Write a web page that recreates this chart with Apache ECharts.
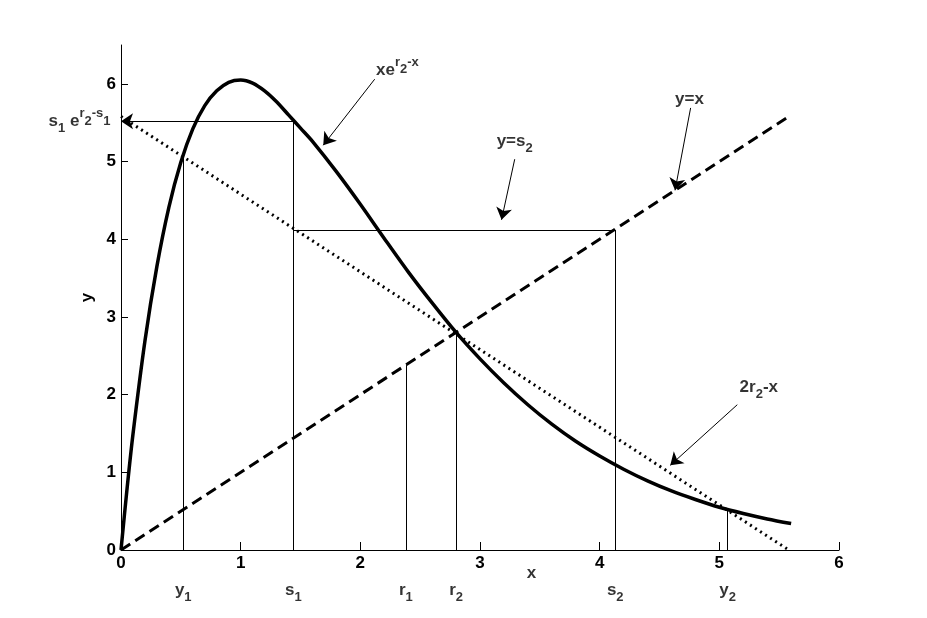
<!DOCTYPE html>
<html>
<head>
<meta charset="utf-8">
<script src="https://cdn.jsdelivr.net/npm/echarts@6/dist/echarts.min.js"></script>
<style>
  html, body { margin: 0; padding: 0; background: #fff; }
  #main { width: 927px; height: 618px; }
</style>
</head>
<body>
<div id="main"></div>
<script>
// curve x*e^(r2-x), values
const curveX = [0, 0.05, 0.1, 0.2, 0.3, 0.4, 0.5, 0.6, 0.7, 0.8, 0.9, 1.0, 1.1, 1.2, 1.3, 1.4, 1.5, 1.6, 1.8, 2.0, 2.2, 2.4, 2.6, 2.8, 3.0, 3.2, 3.4, 3.6, 3.8, 4.0, 4.2, 4.4, 4.6, 4.8, 5.0, 5.2, 5.4, 5.6]
const curveY = [0, 0.78, 1.49, 2.69, 3.65, 4.41, 4.99, 5.42, 5.72, 5.91, 6.02, 6.05, 6.01, 5.91, 5.77, 5.60, 5.43, 5.26, 4.87, 4.45, 4.01, 3.58, 3.18, 2.80, 2.46, 2.15, 1.87, 1.62, 1.40, 1.21, 1.04, 0.89, 0.76, 0.65, 0.55, 0.47, 0.40, 0.34]

// y = x and 2r2 - x
const identityLine = [[0, 0], [5.6, 5.6]]
const mirrorLine = [[0, 5.58], [5.58, 0]]

// thin construction lines [x1, y1, x2, y2]
const guideLines = [
  [0.52, 0, 0.52, 5.08],
  [1.44, 0, 1.44, 5.52],
  [2.38, 0, 2.38, 2.38],
  [2.8, 0, 2.8, 2.8],
  [4.13, 0, 4.13, 4.12],
  [5.07, 0, 5.07, 0.53],
  [1.44, 4.12, 4.13, 4.12]
]
// thin lines ending in an arrow head
const arrowLines = [
  [1.44, 5.52, 0, 5.52],
  [2.12, 6.06, 1.69, 5.21],
  [4.76, 5.69, 4.63, 4.63],
  [3.29, 5.03, 3.18, 4.25],
  [5.15, 1.87, 4.59, 1.09]
]

// marks under the x axis
const markerX = [0.52, 1.44, 2.38, 2.8, 4.13, 5.07]
const markerText = ['{b|y}{sub|1}', '{b|s}{sub|1}', '{b|r}{sub|1}', '{b|r}{sub|2}', '{b|s}{sub|2}', '{b|y}{sub|2}']

// curve annotations [x, y, text]
const notes = [
  [2.31, 6.18, '{b|xe}{sup|r}{mid|2}{sup|-x}'],
  [4.75, 5.80, '{b|y=x}'],
  [3.29, 5.26, '{b|y=s}{sub|2}'],
  [5.33, 2.10, '{b|2r}{sub|2}{b|-x}']
]

const xTicks = [0, 1, 2, 3, 4, 5, 6]
const yTicks = [0, 1, 2, 3, 4, 5, 6]

const FONT = '"Liberation Sans", Arial, sans-serif'
const rich = {
  b: { fontSize: 17, fontWeight: 'bold', fontFamily: FONT, color: '#000', lineHeight: 28, verticalAlign: 'middle' },
  sub: { fontSize: 13, fontWeight: 'bold', fontFamily: FONT, color: '#000', lineHeight: 12, verticalAlign: 'bottom' },
  sup: { fontSize: 13, fontWeight: 'bold', fontFamily: FONT, color: '#000', lineHeight: 12, verticalAlign: 'top' },
  mid: { fontSize: 13, fontWeight: 'bold', fontFamily: FONT, color: '#000', lineHeight: 12, verticalAlign: 'middle' }
}

const toSeg = s => ({ coords: [[s[0], s[1]], [s[2], s[3]]] })

const labelData = []
markerX.forEach((x, i) => {
  labelData.push({ value: [x, 0], label: { formatter: markerText[i], offset: [0, 40] } })
})
labelData.push({ value: [3.43, 0], label: { formatter: '{b|x}', offset: [0, 23] } })
notes.forEach(n => {
  labelData.push({ value: [n[0], n[1]], label: { formatter: n[2] } })
})
labelData.push({
  value: [0, 5.52],
  label: { formatter: '{b|s}{sub|1}{b| e}{sup|r}{mid|2}{sup|-s}{mid|1}', position: 'left', distance: 10 }
})

const axisFont = { color: '#000', fontSize: 17, fontWeight: 'bold', fontFamily: FONT }

const chart = echarts.init(document.getElementById('main'))
chart.setOption({
  animation: false,
  backgroundColor: '#fff',
  grid: { left: 121, right: 88, top: 45, bottom: 68, containLabel: false },
  xAxis: {
    type: 'value',
    min: 0,
    max: 6,
    interval: 1,
    axisLine: { lineStyle: { color: '#000', width: 1 } },
    axisTick: { inside: true, length: 8, lineStyle: { color: '#000' }, customValues: xTicks },
    axisLabel: Object.assign({ margin: 5, customValues: xTicks }, axisFont),
    splitLine: { show: false }
  },
  yAxis: {
    type: 'value',
    min: 0,
    max: 6.5,
    interval: 1,
    name: 'y',
    nameLocation: 'middle',
    nameGap: 20,
    nameTextStyle: axisFont,
    axisLine: { show: true, lineStyle: { color: '#000', width: 1 } },
    axisTick: { show: true, inside: true, length: 7, lineStyle: { color: '#000' }, customValues: yTicks },
    axisLabel: Object.assign({ margin: 5, customValues: yTicks }, axisFont),
    splitLine: { show: false }
  },
  series: [
    {
      type: 'lines',
      coordinateSystem: 'cartesian2d',
      silent: true,
      symbol: 'none',
      lineStyle: { color: '#000', width: 1, opacity: 1 },
      data: guideLines.map(toSeg)
    },
    {
      type: 'lines',
      coordinateSystem: 'cartesian2d',
      silent: true,
      symbol: ['none', 'arrow'],
      symbolSize: 12,
      lineStyle: { color: '#000', width: 1, opacity: 1 },
      data: arrowLines.map(toSeg)
    },
    {
      name: 'y=x',
      type: 'line',
      data: identityLine,
      symbol: 'none',
      lineStyle: { color: '#000', width: 3, type: [11, 6] }
    },
    {
      name: '2r2-x',
      type: 'line',
      data: mirrorLine,
      symbol: 'none',
      lineStyle: { color: '#000', width: 3, type: [2, 4] }
    },
    {
      name: 'xe^(r2-x)',
      type: 'line',
      data: curveX.map((x, i) => [x, curveY[i]]),
      symbol: 'none',
      smooth: 0.3,
      lineStyle: { color: '#000', width: 3.5 }
    },
    {
      type: 'scatter',
      silent: true,
      clip: false,
      symbolSize: 1,
      itemStyle: { color: 'rgba(0,0,0,0)' },
      label: { show: true, position: 'inside', rich: rich },
      data: labelData
    }
  ]
})
</script>
</body>
</html>
